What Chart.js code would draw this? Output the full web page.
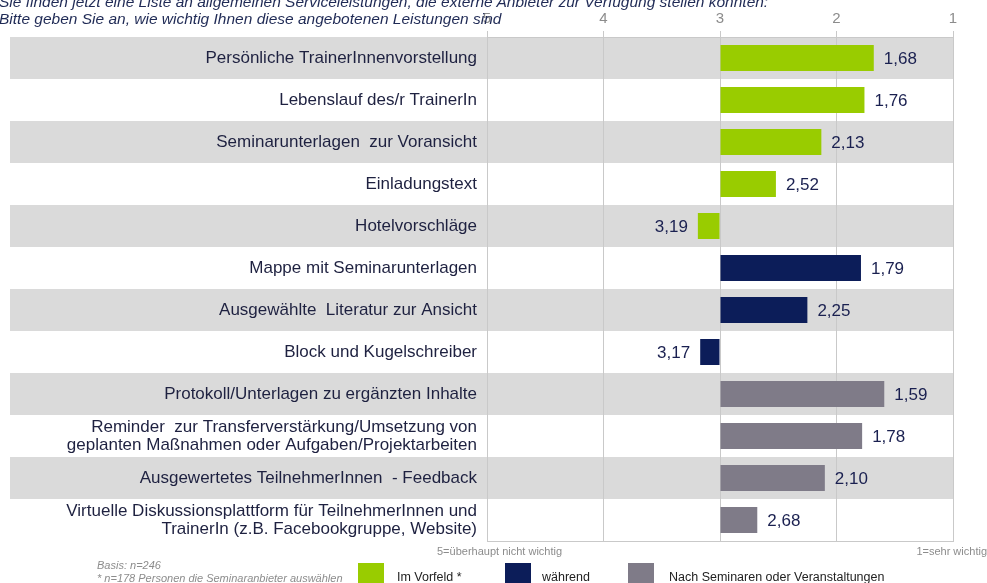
<!DOCTYPE html>
<html lang="de">
<head>
<meta charset="utf-8">
<script src="https://cdn.jsdelivr.net/npm/chart.js@4.4.1/dist/chart.umd.min.js"></script>
<style>
  html, body { margin: 0; padding: 0; background: #fff; }
  body { width: 987px; height: 583px; position: relative; overflow: hidden; font-family: "Liberation Sans", Arial, sans-serif; }
  #wrap { position: absolute; left: 0; top: 0; width: 987px; height: 583px; }
  .txt { position: absolute; white-space: nowrap; }
  #title { left: -1px; top: -7px; font-size: 15.5px; line-height: 17px; font-style: italic; color: #1f2a55; }
  .note { font-size: 11px; line-height: 13px; color: #8c8c8c; }
  .key { position: absolute; width: 26px; height: 26px; }
  .keytxt { font-size: 12.5px; line-height: 15px; color: #222; }
</style>
</head>
<body>
<div id="wrap"><canvas id="myChart" width="987" height="583"></canvas></div>

<div id="title" class="txt">Sie finden jetzt eine Liste an allgemeinen Serviceleistungen, die externe Anbieter zur Verfügung stellen könnten:<br>Bitte geben Sie an, wie wichtig Ihnen diese angebotenen Leistungen sind</div>

<div class="txt note" style="left:437px; top:545px;">5=überhaupt nicht wichtig</div>
<div class="txt note" style="right:0px; top:545px;">1=sehr wichtig</div>
<div class="txt note" style="left:97px; top:559px; font-style:italic;">Basis: n=246</div>
<div class="txt note" style="left:97px; top:572px; font-style:italic;">* n=178 Personen die Seminaranbieter auswählen</div>

<div class="key" style="left:358px; top:563px; background:#99cc00;"></div>
<div class="txt keytxt" style="left:397px; top:570px;">Im Vorfeld *</div>
<div class="key" style="left:505px; top:563px; background:#0c1d59;"></div>
<div class="txt keytxt" style="left:542px; top:570px;">während</div>
<div class="key" style="left:628px; top:563px; background:#7f7b88;"></div>
<div class="txt keytxt" style="left:669px; top:570px;">Nach Seminaren oder Veranstaltungen</div>

<script>
// --- DATEN ---
const categories = [
    'Persönliche TrainerInnenvorstellung',
    'Lebenslauf des/r TrainerIn',
    'Seminarunterlagen  zur Voransicht',
    'Einladungstext',
    'Hotelvorschläge',
    'Mappe mit Seminarunterlagen',
    'Ausgewählte  Literatur zur Ansicht',
    'Block und Kugelschreiber',
    'Protokoll/Unterlagen zu ergänzten Inhalte',
    ['Reminder  zur Transferverstärkung/Umsetzung von', 'geplanten Maßnahmen oder Aufgaben/Projektarbeiten'],
    'Ausgewertetes TeilnehmerInnen  - Feedback',
    ['Virtuelle Diskussionsplattform für TeilnehmerInnen und', 'TrainerIn (z.B. Facebookgruppe, Website)']
];

// Mittelwerte je Phase (null = gehört nicht zur Phase)
const vorfeld  = [1.68, 1.76, 2.13, 2.52, 3.19, null, null, null, null, null, null, null];
const waehrend = [null, null, null, null, null, 1.79, 2.25, 3.17, null, null, null, null];
const nachher  = [null, null, null, null, null, null, null, null, 1.59, 1.78, 2.10, 2.68];

const seriesNames = ['Im Vorfeld *', 'während', 'Nach Seminaren oder Veranstaltungen'];
const tickValues = [5, 4, 3, 2, 1];
const midValue = 3; // Balken starten bei 3

const colors = ['#99cc00', '#0c1d59', '#7f7b88'];
const gridColor = '#c9c9c9';
const bandColor = '#dadada';
const fontFamily = '"Liberation Sans", Arial, sans-serif';

// --- PLUGINS ---
// graue Zeilenbänder (auch hinter den Beschriftungen)
const bandPlugin = {
    id: 'bands',
    beforeDraw(chart) {
        const c = chart.ctx, y = chart.scales.y, area = chart.chartArea;
        const half = (y.getPixelForValue(1) - y.getPixelForValue(0)) / 2;
        c.save();
        c.fillStyle = bandColor;
        categories.forEach((cat, i) => {
            if (i % 2 !== 0) return;
            const py = y.getPixelForValue(i);
            c.fillRect(10, py - half, area.right - 10, half * 2);
        });
        c.restore();
    },
    beforeDatasetsDraw(chart) {
        // Rahmen um die Zeichenfläche
        const c = chart.ctx, a = chart.chartArea;
        c.save();
        c.strokeStyle = gridColor;
        c.lineWidth = 1;
        c.strokeRect(Math.round(a.left) + 0.5, Math.round(a.top) + 0.5, Math.round(a.right - a.left), Math.round(a.bottom - a.top));
        c.restore();
    }
};

// Wertbeschriftungen neben den Balken
const valuePlugin = {
    id: 'values',
    afterDatasetsDraw(chart) {
        const c = chart.ctx;
        c.save();
        c.font = '17px ' + fontFamily;
        c.fillStyle = '#1a2050';
        c.textBaseline = 'middle';
        chart.data.datasets.forEach((ds, di) => {
            const meta = chart.getDatasetMeta(di);
            meta.data.forEach((bar, i) => {
                const v = ds.data[i];
                if (v === null) return;
                const txt = v.toFixed(2).replace('.', ',');
                if (v > midValue) {
                    c.textAlign = 'right';
                    c.fillText(txt, bar.x - 10, bar.y + 1);
                } else {
                    c.textAlign = 'left';
                    c.fillText(txt, bar.x + 10, bar.y + 1);
                }
            });
        });
        c.restore();
    }
};

// --- CHART ---
const ctx = document.getElementById('myChart').getContext('2d');
const datasetDefaults = { base: midValue, grouped: false, barPercentage: 0.62, categoryPercentage: 1, borderWidth: 0 };

const chart = new Chart(ctx, {
    type: 'bar',
    data: {
        labels: categories,
        datasets: [
            Object.assign({ label: seriesNames[0], data: vorfeld,  backgroundColor: colors[0] }, datasetDefaults),
            Object.assign({ label: seriesNames[1], data: waehrend, backgroundColor: colors[1] }, datasetDefaults),
            Object.assign({ label: seriesNames[2], data: nachher,  backgroundColor: colors[2] }, datasetDefaults)
        ]
    },
    options: {
        indexAxis: 'y',
        responsive: false,
        animation: false,
        layout: { padding: { top: 0, left: 0, right: 34, bottom: 42 } },
        plugins: { legend: { display: false }, tooltip: { enabled: false } },
        scales: {
            x: {
                position: 'top',
                reverse: true,
                min: 1,
                max: 5,
                afterBuildTicks(scale) { scale.ticks = tickValues.map(v => ({ value: v })); },
                afterFit(scale) { scale.height = 37; },
                ticks: { color: '#8c8c8c', font: { size: 15, family: fontFamily }, padding: 3 },
                grid: { color: gridColor, tickLength: 6, drawTicks: true },
                border: { display: true, color: gridColor }
            },
            y: {
                afterFit(scale) { scale.width = 487; },
                ticks: { color: '#1e2140', font: { size: 17, family: fontFamily, lineHeight: 1.05 }, padding: 10 },
                grid: { display: false, drawTicks: false },
                border: { display: false }
            }
        }
    },
    plugins: [bandPlugin, valuePlugin]
});
</script>
</body>
</html>
